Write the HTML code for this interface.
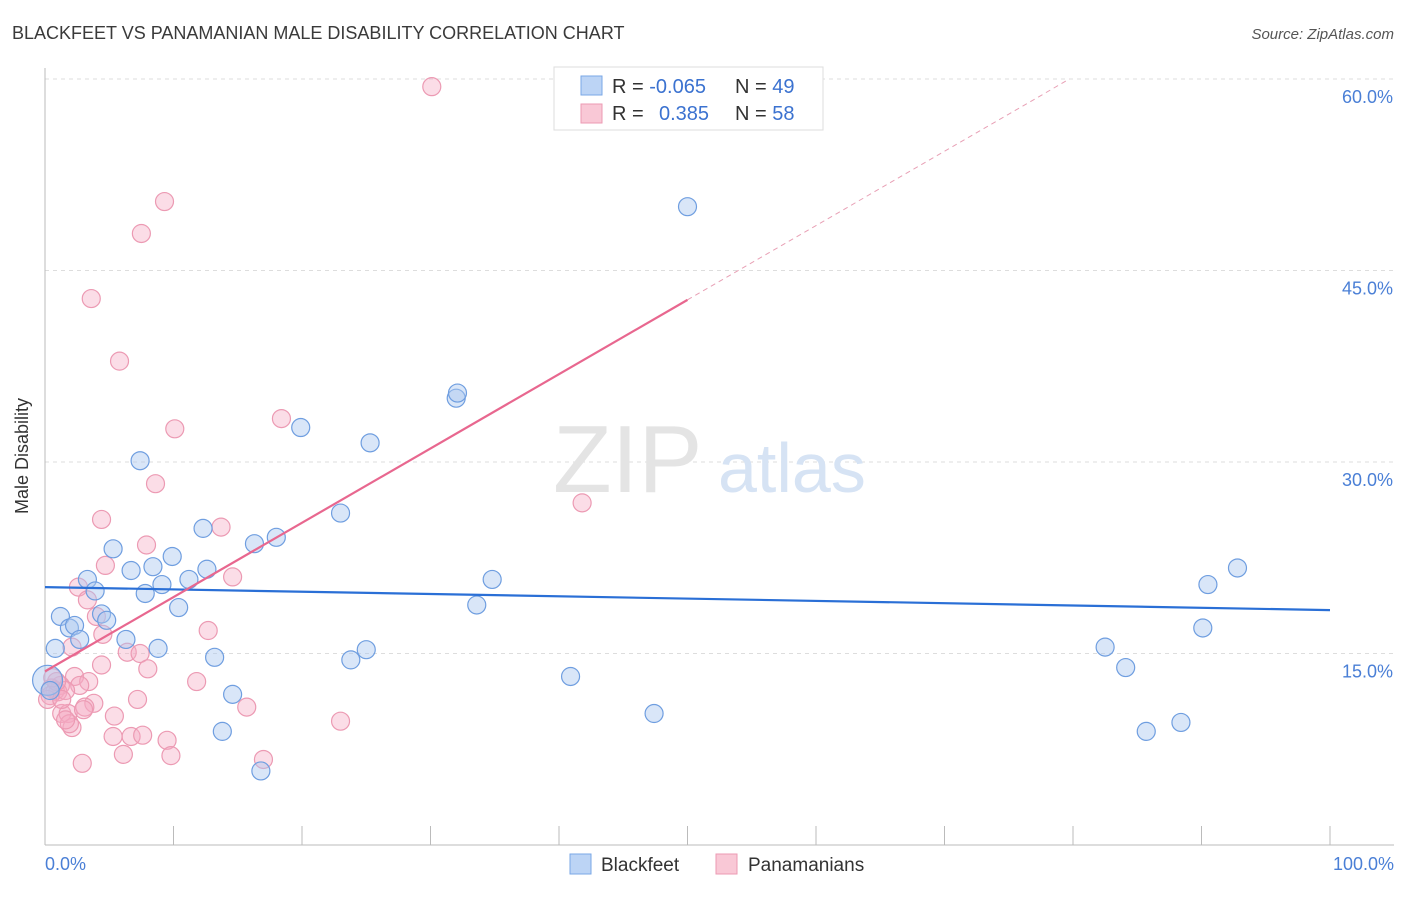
<!DOCTYPE html>
<html><head><meta charset="utf-8"><style>
body{margin:0;background:#fff;font-family:"Liberation Sans",sans-serif}
svg text{font-family:"Liberation Sans",sans-serif}
</style></head><body>
<svg id="chart" width="1406" height="892">
<text x="12" y="39" font-size="18" fill="#3a3a3a">BLACKFEET VS PANAMANIAN MALE DISABILITY CORRELATION CHART</text>
<text x="1394" y="39" font-size="15" fill="#555" font-style="italic" text-anchor="end">Source: ZipAtlas.com</text>
<g id="grid"></g>
<g><text x="553" y="492" font-size="96" fill="#e4e4e4" font-family="Liberation Serif">ZIP</text><text x="718" y="492" font-size="70" fill="#d6e3f4">atlas</text></g>
<g id="axes"></g>
<g id="pts"></g>
<g id="lines"></g>
<text x="28" y="456" font-size="18" fill="#333" text-anchor="middle" transform="rotate(-90 28 456)">Male Disability</text>
<text x="45" y="870" font-size="18" fill="#4a7fd6">0.0%</text>
<text x="1394" y="870" font-size="18" fill="#4a7fd6" text-anchor="end">100.0%</text>
<g>
<rect x="554" y="67" width="269" height="63" fill="#fff" stroke="#ddd"/>
<rect x="581" y="76" width="21" height="19" fill="#bcd4f5" stroke="#7aa7e6"/>
<rect x="581" y="104" width="21" height="19" fill="#f9c8d6" stroke="#ec9ab3"/>
<text x="612" y="93" font-size="20" fill="#333">R = <tspan fill="#3b72d0">-0.065</tspan></text>
<text x="735" y="93" font-size="20" fill="#333">N = <tspan fill="#3b72d0">49</tspan></text>
<text x="612" y="120" font-size="20" fill="#333">R = <tspan fill="#3b72d0" x="659">0.385</tspan></text>
<text x="735" y="120" font-size="20" fill="#333">N = <tspan fill="#3b72d0">58</tspan></text>
</g>
<g>
<rect x="570" y="854" width="21" height="20" fill="#bcd4f5" stroke="#7aa7e6"/>
<text x="601" y="871" font-size="19" fill="#333">Blackfeet</text>
<rect x="716" y="854" width="21" height="20" fill="#f9c8d6" stroke="#ec9ab3"/>
<text x="748" y="871" font-size="19" fill="#333">Panamanians</text>
</g>
</svg>
<script>
const yTicks=[15,30,45,60];
const yTickLabels=["15.0%","30.0%","45.0%","60.0%"];
const xTicks=[0,10,20,30,40,50,60,70,80,90,100];
const blueX=[0.8,1.2,1.9,2.3,2.7,3.3,3.9,4.4,4.8,5.3,6.3,6.7,7.4,7.8,8.4,8.8,9.1,9.9,10.4,11.2,12.3,12.6,13.2,13.8,14.6,16.3,16.8,18.0,19.9,23.0,23.8,25.0,25.3,32.0,32.1,33.6,34.8,40.9,47.4,50.0,82.5,84.1,85.7,88.4,90.1,90.5,92.8,0.2,0.4];
const blueY=[15.4,17.9,17.0,17.2,16.1,20.8,19.9,18.1,17.6,23.2,16.1,21.5,30.1,19.7,21.8,15.4,20.4,22.6,18.6,20.8,24.8,21.6,14.7,8.9,11.8,23.6,5.8,24.1,32.7,26.0,14.5,15.3,31.5,35.0,35.4,18.8,20.8,13.2,10.3,50.0,15.5,13.9,8.9,9.6,17.0,20.4,21.7,12.9,12.1];
const pinkX=[30.1,9.3,7.5,3.6,5.8,10.1,18.4,8.6,4.4,13.7,7.9,4.7,14.6,2.6,3.3,4.0,4.5,12.7,2.1,6.4,7.4,4.4,8.0,11.8,2.3,3.4,2.7,1.2,0.5,0.8,1.0,1.6,7.2,3.8,3.1,15.7,1.3,1.8,5.4,2.1,1.9,5.3,6.7,7.6,9.5,6.1,9.8,17.0,2.9,23.0,41.8,0.4,0.2,0.9,0.6,1.3,1.6,3.0];
const pinkY=[59.4,50.4,47.9,42.8,37.9,32.6,33.4,28.3,25.5,24.9,23.5,21.9,21.0,20.2,19.2,17.9,16.5,16.8,15.5,15.1,15.0,14.1,13.8,12.8,13.2,12.8,12.5,12.5,12.3,12.1,12.0,12.1,11.4,11.1,10.8,10.8,10.3,10.3,10.1,9.2,9.5,8.5,8.5,8.6,8.2,7.1,7.0,6.7,6.4,9.7,26.8,11.7,11.4,12.8,13.1,11.4,9.8,10.6];
const blueLine=[20.2,18.4];
const pinkLine=[13.6,0.582];
const NS="http://www.w3.org/2000/svg";
const X=v=>45+v*12.85, Y=v=>845-v*191.5/15;
function mk(t,a,p){const e=document.createElementNS(NS,t);for(const k in a)e.setAttribute(k,a[k]);p.appendChild(e);return e;}
const grid=document.getElementById('grid'),axes=document.getElementById('axes'),pts=document.getElementById('pts'),lines=document.getElementById('lines');
yTicks.forEach((t,i)=>{
 const l=mk('line',{x1:45,x2:1394,y1:Y(t),y2:Y(t),stroke:'#ddd','stroke-dasharray':'4,4'},grid);
 
 
 const tx=mk('text',{x:1393,y:Y(t)+24,'font-size':18,fill:'#4a7fd6','text-anchor':'end'},axes);
 tx.textContent=yTickLabels[i];
 
 
});
const ya=mk('line',{x1:45,x2:45,y1:68,y2:845,stroke:'#bbb'},axes);


const xa=mk('line',{x1:45,x2:1394,y1:845,y2:845,stroke:'#bbb'},axes);


xTicks.forEach(t=>{
 const l=mk('line',{x1:X(t),x2:X(t),y1:826,y2:845,stroke:'#bbb'},axes);
 
 
});
pinkX.forEach((x,i)=>{
 const c=mk('circle',{cx:X(x),cy:Y(pinkY[i]),r:9,fill:'rgba(246,170,195,0.4)',stroke:'#ec9ab3','stroke-width':1.2},pts);
 
 
});
blueX.forEach((x,i)=>{
 const c=mk('circle',{cx:X(x),cy:Y(blueY[i]),r:i==47?15:9,fill:'rgba(170,200,240,0.45)',stroke:'#6f9ee0','stroke-width':1.2},pts);
 
 
});
const bl=mk('line',{x1:X(0),y1:Y(blueLine[0]),x2:X(100),y2:Y(blueLine[1]),stroke:'#2a6fd6','stroke-width':2.2},lines);


const pl=mk('line',{x1:X(0),y1:Y(pinkLine[0]),x2:X(50),y2:Y(pinkLine[0]+pinkLine[1]*50),stroke:'#e8678f','stroke-width':2.2},lines);


const xe=(60-pinkLine[0])/pinkLine[1];
const pd=mk('line',{x1:X(50),y1:Y(pinkLine[0]+pinkLine[1]*50),x2:X(xe),y2:Y(60),stroke:'#e8a0b5','stroke-width':1,'stroke-dasharray':'5,4'},lines);


</script>
</body></html>
